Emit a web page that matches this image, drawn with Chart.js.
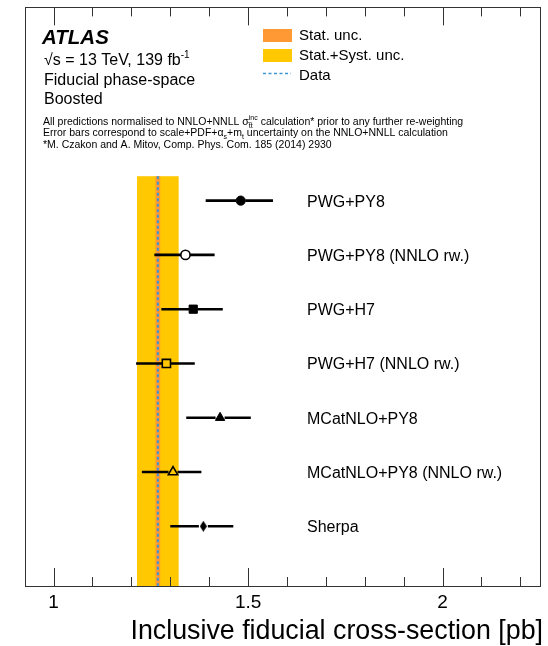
<!DOCTYPE html>
<html>
<head>
<meta charset="utf-8">
<script src="https://cdn.jsdelivr.net/npm/chart.js@4"></script>
<style>
  html, body { margin: 0; padding: 0; background: #fff; }
  canvas { display: block; }
</style>
</head>
<body>
<canvas id="c" width="548" height="646"></canvas>
<script>
// Predictions, top to bottom
const categories = ['PWG+PY8', 'PWG+PY8 (NNLO rw.)', 'PWG+H7', 'PWG+H7 (NNLO rw.)',
                    'MCatNLO+PY8', 'MCatNLO+PY8 (NNLO rw.)', 'Sherpa'];
const xsec    = [1.481, 1.339, 1.359, 1.290, 1.428, 1.307, 1.385];
const errLow  = [1.391, 1.259, 1.277, 1.212, 1.341, 1.227, 1.300];
const errHigh = [1.564, 1.414, 1.435, 1.363, 1.507, 1.380, 1.462];
const markerShape = ['circle', 'circle', 'rect', 'rect', 'triangle', 'triangle', 'diamond'];
const markerFilled = [true, false, true, false, true, false, true];

// Measurement
const dataValue = 1.268;
const statUnc = 0.006;
const totalUnc = 0.0535;

// Axis ticks
const majorTicks = [1, 1.5, 2];
const majorLabels = ['1', '1.5', '2'];
const minorTicks = [1.1, 1.2, 1.3, 1.4, 1.6, 1.7, 1.8, 1.9, 2.1, 2.2];

const FONT = '"Liberation Sans", Arial, Helvetica, sans-serif';
const BAND_TOP = -0.45;   // band starts a little above the first prediction
const Y_MIN = -3.56, Y_MAX = 7.1;
const DATA_BLUE = '#3a97d4';

// thin diamond marker
const diamond = document.createElement('canvas');
diamond.width = 7; diamond.height = 11;
{
  const g = diamond.getContext('2d');
  g.fillStyle = '#000';
  g.beginPath();
  g.moveTo(3.5, 0); g.lineTo(7, 5.5); g.lineTo(3.5, 11); g.lineTo(0, 5.5);
  g.closePath(); g.fill();
}

const styleOf = s => s === 'diamond' ? diamond : s;
const radiusOf = s => ({ circle: 4.6, rect: 5.8, triangle: 5.4, diamond: 5 }[s]);
const gapOf = s => ({ circle: 4.6, rect: 4.1, triangle: 4.5, diamond: 4.5 }[s]);

function rich(ctx, x, y, parts) {
  let cx = x;
  for (const p of parts) {
    if (p.stack) {
      ctx.font = p.size + 'px ' + FONT;
      const w1 = ctx.measureText(p.sup).width, w2 = ctx.measureText(p.sub).width;
      ctx.fillText(p.sup, cx, y - p.up);
      ctx.fillText(p.sub, cx, y + p.down);
      cx += Math.max(w1, w2);
      continue;
    }
    ctx.font = (p.weight || '') + ' ' + (p.size) + 'px ' + FONT;
    ctx.fillText(p.t, cx, y + (p.dy || 0));
    cx += ctx.measureText(p.t).width;
  }
  return cx;
}

const decorations = {
  id: 'decorations',
  beforeDatasetsDraw(chart) {
    const { ctx, scales: { x, y } } = chart;
    const top = y.getPixelForValue(BAND_TOP), bot = y.getPixelForValue(Y_MAX);
    ctx.save();
    // total uncertainty band
    ctx.fillStyle = '#ffc800';
    let x0 = x.getPixelForValue(dataValue - totalUnc), x1 = x.getPixelForValue(dataValue + totalUnc);
    ctx.fillRect(x0, top, x1 - x0, bot - top);
    // statistical band
    ctx.fillStyle = '#ff9933';
    x0 = x.getPixelForValue(dataValue - statUnc); x1 = x.getPixelForValue(dataValue + statUnc);
    ctx.fillRect(x0, top, x1 - x0, bot - top);
    // measured value
    const xd = x.getPixelForValue(dataValue);
    ctx.strokeStyle = DATA_BLUE;
    ctx.lineWidth = 2;
    ctx.setLineDash([3, 2.5]);
    ctx.beginPath(); ctx.moveTo(xd, top); ctx.lineTo(xd, bot); ctx.stroke();
    ctx.setLineDash([]);
    // error bars
    ctx.strokeStyle = '#000';
    ctx.lineWidth = 2.6;
    categories.forEach((c, i) => {
      const py = y.getPixelForValue(i), pc = x.getPixelForValue(xsec[i]);
      const g = gapOf(markerShape[i]);
      ctx.beginPath();
      ctx.moveTo(x.getPixelForValue(errLow[i]), py); ctx.lineTo(pc - g, py);
      ctx.moveTo(pc + g, py); ctx.lineTo(x.getPixelForValue(errHigh[i]), py);
      ctx.stroke();
    });
    ctx.restore();
  },
  afterDraw(chart) {
    const { ctx, chartArea: a, scales: { x, y } } = chart;
    ctx.save();
    // frame
    ctx.strokeStyle = '#333';
    ctx.lineWidth = 1;
    ctx.strokeRect(Math.round(a.left) + 0.5, Math.round(a.top) + 0.5,
                   Math.round(a.right - a.left) - 1, Math.round(a.bottom - a.top));
    // inward ticks on bottom and top
    const tick = (v, len) => {
      const px = Math.round(x.getPixelForValue(v)) + 0.5;
      ctx.beginPath();
      ctx.moveTo(px, a.bottom); ctx.lineTo(px, a.bottom - len);
      ctx.moveTo(px, a.top); ctx.lineTo(px, a.top + len);
      ctx.stroke();
    };
    majorTicks.forEach(v => tick(v, 18));
    minorTicks.forEach(v => tick(v, 9));
    ctx.fillStyle = '#000';
    // tick labels
    ctx.font = '19px ' + FONT;
    ctx.textAlign = 'center';
    majorTicks.forEach((v, i) => ctx.fillText(majorLabels[i], x.getPixelForValue(v), 608));
    // axis title
    ctx.font = '26.8px ' + FONT;
    ctx.textAlign = 'right';
    ctx.fillText('Inclusive fiducial cross-section [pb]', 543, 639);
    ctx.textAlign = 'left';
    // prediction names
    ctx.font = '16px ' + FONT;
    categories.forEach((c, i) => ctx.fillText(c, 307, y.getPixelForValue(i) + 6));

    // header
    ctx.font = 'italic bold 20.5px ' + FONT;
    ctx.fillText('ATLAS', 42, 44);
    rich(ctx, 44, 65, [
      { t: '\u221As = 13 TeV, 139 fb', size: 16 },
      { t: '-1', size: 10, dy: -7 }
    ]);
    ctx.font = '16px ' + FONT;
    ctx.fillText('Fiducial phase-space', 44, 85);
    ctx.fillText('Boosted', 44, 104);

    rich(ctx, 43, 125, [
      { t: 'All predictions normalised to NNLO+NNLL ', size: 10.5 },
      { t: '\u03C3', size: 10.5 },
      { stack: true, sup: 'inc', sub: 't\u0305t', size: 7, up: 5, down: 2.5 },
      { t: ' calculation* prior to any further re-weighting', size: 10.5 }
    ]);
    rich(ctx, 43, 136, [
      { t: 'Error bars correspond to scale+PDF+\u03B1', size: 10.5 },
      { t: 's', size: 7, dy: 2.5 },
      { t: '+m', size: 10.5 },
      { t: 't', size: 7, dy: 2.5 },
      { t: ' uncertainty on the NNLO+NNLL calculation', size: 10.5 }
    ]);
    rich(ctx, 43, 147.5, [{ t: '*M. Czakon and A. Mitov, Comp. Phys. Com. 185 (2014) 2930', size: 10.5 }]);

    // legend
    ctx.fillStyle = '#ff9933';
    ctx.fillRect(263, 29, 29, 13);
    ctx.fillStyle = '#ffc800';
    ctx.fillRect(263, 49, 29, 13);
    ctx.strokeStyle = DATA_BLUE;
    ctx.lineWidth = 1.5;
    ctx.setLineDash([3, 2.5]);
    ctx.beginPath(); ctx.moveTo(263, 73.5); ctx.lineTo(291, 73.5); ctx.stroke();
    ctx.setLineDash([]);
    ctx.fillStyle = '#000';
    ctx.font = '15px ' + FONT;
    ctx.fillText('Stat. unc.', 299, 40);
    ctx.fillText('Stat.+Syst. unc.', 299, 60);
    ctx.fillText('Data', 299, 80);
    ctx.restore();
  }
};

new Chart(document.getElementById('c'), {
  type: 'scatter',
  data: {
    datasets: [{
      data: xsec.map((v, i) => ({ x: v, y: i })),
      pointStyle: markerShape.map(styleOf),
      pointRadius: markerShape.map(radiusOf),
      pointBackgroundColor: markerFilled.map(f => f ? '#000' : 'rgba(0,0,0,0)'),
      pointBorderColor: '#000',
      pointBorderWidth: markerFilled.map(f => f ? 1 : 1.6)
    }]
  },
  options: {
    responsive: false,
    animation: false,
    devicePixelRatio: 1,
    layout: { padding: { left: 25, right: 5, top: 5, bottom: 60 } },
    plugins: { legend: { display: false }, tooltip: { enabled: false } },
    scales: {
      x: { type: 'linear', min: 0.9265, max: 2.252, display: false },
      y: { type: 'linear', min: Y_MIN, max: Y_MAX, reverse: true, display: false }
    }
  },
  plugins: [decorations]
});
</script>
</body>
</html>
